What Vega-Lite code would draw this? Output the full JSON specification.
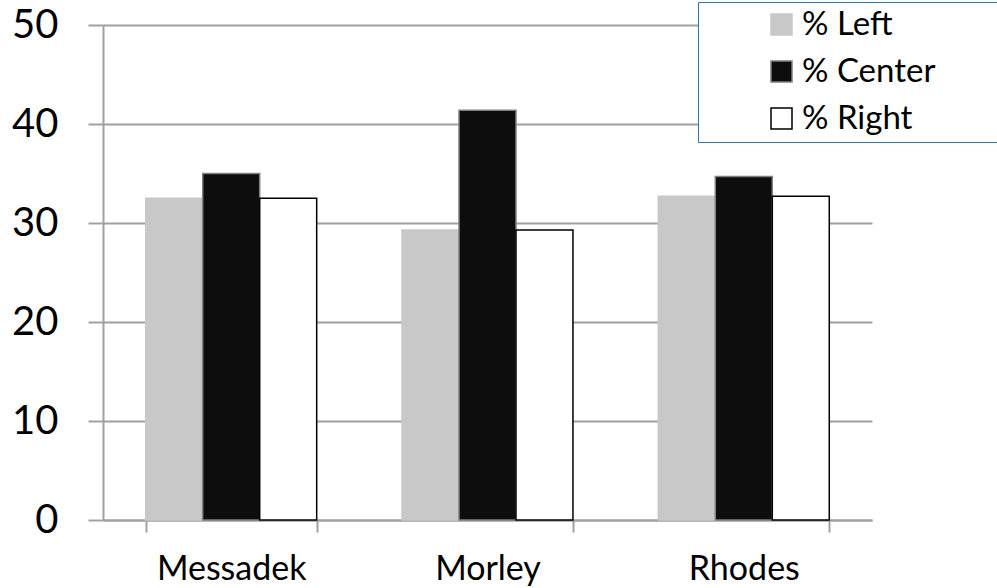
{
  "$schema": "https://vega.github.io/schema/vega-lite/v6.json",
  "width": 769,
  "height": 495,
  "autosize": {"type": "none"},
  "padding": {"left": 103, "top": 25, "right": 125, "bottom": 68},
  "background": "white",
  "config": {
    "font": "Lato",
    "view": {"stroke": null}
  },
  "data": {
    "values": [
      {"candidate": "Messadek", "series": "% Left", "value": 32.5},
      {"candidate": "Messadek", "series": "% Center", "value": 35.0},
      {"candidate": "Messadek", "series": "% Right", "value": 32.5},
      {"candidate": "Morley", "series": "% Left", "value": 29.3},
      {"candidate": "Morley", "series": "% Center", "value": 41.4},
      {"candidate": "Morley", "series": "% Right", "value": 29.3},
      {"candidate": "Rhodes", "series": "% Left", "value": 32.7},
      {"candidate": "Rhodes", "series": "% Center", "value": 34.7},
      {"candidate": "Rhodes", "series": "% Right", "value": 32.7}
    ]
  },
  "mark": {"type": "bar", "strokeWidth": 1.5},
  "encoding": {
    "x": {
      "field": "candidate",
      "type": "nominal",
      "sort": ["Messadek", "Morley", "Rhodes"],
      "scale": {"paddingInner": 0.333, "paddingOuter": 0.1667},
      "axis": {
        "title": null,
        "labelAngle": 0,
        "labelFontSize": 34,
        "labelColor": "#000000",
        "labelPadding": 20,
        "tickBand": "extent",
        "tickSize": 12,
        "tickWidth": 2,
        "tickColor": "#a0a0a0",
        "domainColor": "#a0a0a0",
        "domainWidth": 2
      }
    },
    "xOffset": {
      "field": "series",
      "type": "nominal",
      "sort": ["% Left", "% Center", "% Right"],
      "scale": {"paddingInner": 0, "paddingOuter": 0}
    },
    "y": {
      "field": "value",
      "type": "quantitative",
      "scale": {"domain": [0, 50], "nice": false},
      "axis": {
        "title": null,
        "values": [0, 10, 20, 30, 40, 50],
        "labelFontSize": 40,
        "labelColor": "#000000",
        "labelPadding": 30,
        "grid": true,
        "gridColor": "#a0a0a0",
        "gridWidth": 2,
        "tickSize": 15,
        "tickWidth": 2,
        "tickColor": "#a0a0a0",
        "domainColor": "#a0a0a0",
        "domainWidth": 2
      }
    },
    "fill": {
      "field": "series",
      "type": "nominal",
      "sort": ["% Left", "% Center", "% Right"],
      "scale": {"domain": ["% Left", "% Center", "% Right"], "range": ["#c8c8c8", "#0d0d0d", "#ffffff"]},
      "legend": {
        "title": null,
        "orient": "none",
        "legendX": 595,
        "legendY": -23,
        "padding": 6,
        "strokeColor": "#2e75b6",
        "fillColor": "#ffffff",
        "symbolType": "square",
        "symbolSize": 441,
        "symbolOffset": 61,
        "symbolStrokeWidth": 1.5,
        "labelFontSize": 33,
        "labelColor": "#000000",
        "labelOffset": 4,
        "labelLimit": 500,
        "rowPadding": 13,
        "labelExpr": "datum.label + '\u2800\u2800\u2800'"
      }
    },
    "stroke": {
      "field": "series",
      "type": "nominal",
      "sort": ["% Left", "% Center", "% Right"],
      "scale": {"domain": ["% Left", "% Center", "% Right"], "range": ["#c8c8c8", "#7f7f7f", "#000000"]},
      "legend": {
        "title": null,
        "orient": "none",
        "legendX": 595,
        "legendY": -23,
        "padding": 6,
        "strokeColor": "#2e75b6",
        "fillColor": "#ffffff",
        "symbolType": "square",
        "symbolSize": 441,
        "symbolOffset": 61,
        "symbolStrokeWidth": 1.5,
        "labelFontSize": 33,
        "labelColor": "#000000",
        "labelOffset": 4,
        "labelLimit": 500,
        "rowPadding": 13,
        "labelExpr": "datum.label + '\u2800\u2800\u2800'"
      }
    }
  }
}
